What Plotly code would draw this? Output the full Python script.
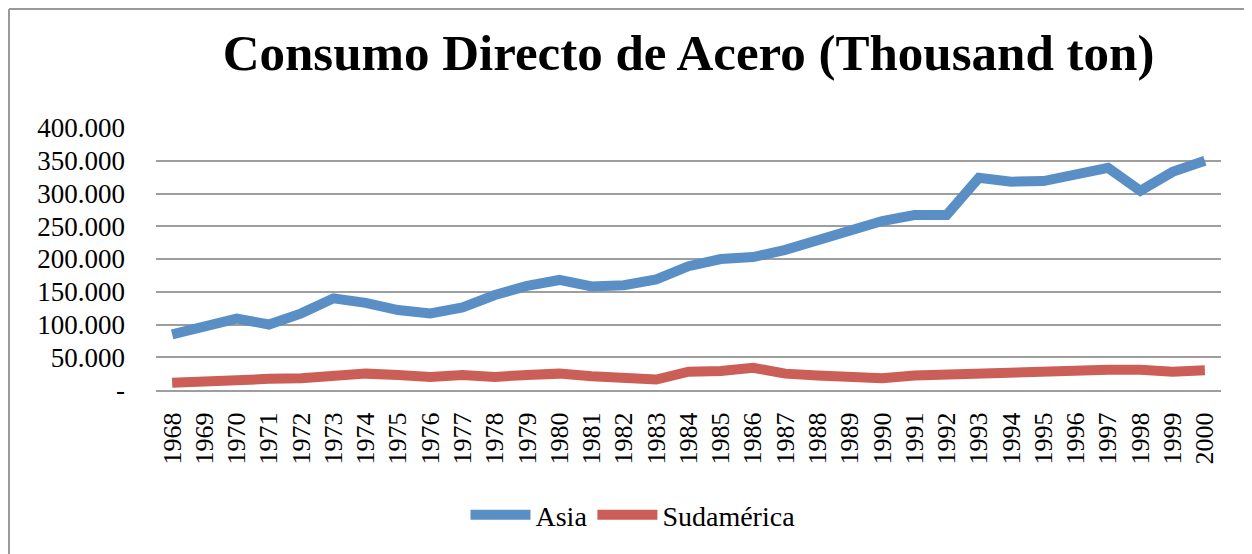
import plotly.graph_objects as go

years = [str(y) for y in range(1968, 2001)]
asia = [85, 97, 109, 100, 117, 140, 133, 122, 117, 126, 145, 159, 168, 158, 160, 169,
        189, 200, 203, 214, 229, 243, 258, 267, 267, 324, 318, 319, 329, 339, 304, 333, 350]
sudamerica = [11, 14, 15, 17, 18, 21, 25, 23, 20, 23, 20, 23, 25, 21, 20, 16,
              28, 29, 34, 25, 22, 21, 18, 22, 24, 25, 25, 29, 29, 31, 31, 28, 30]
ytick_vals = [0, 50, 100, 150, 200, 250, 300, 350, 400]
ytick_text = ["-", "50.000", "100.000", "150.000", "200.000", "250.000", "300.000", "350.000", "400.000"]

FONT = "Liberation Serif"

fig = go.Figure()
fig.add_trace(go.Scatter(x=years, y=asia, mode="lines", name="Asia",
                         line=dict(color="#5A8FC6", width=10)))
fig.add_trace(go.Scatter(x=years, y=sudamerica, mode="lines", name="Sudamérica",
                         line=dict(color="#CB5F58", width=10)))

OFF = 8  # page body margin
W, H = 1252 - OFF, 554 - OFF
L, R, T, B = 156 - OFF, 1221 - OFF, 128 - OFF, 390 - OFF
pw, ph = R - L, B - T

def px(x):
    return (x - OFF - L) / pw

def py(y):
    return (B - (y - OFF)) / ph

fig.update_layout(
    width=W, height=H,
    margin=dict(l=L, r=W - R, t=T, b=H - B, pad=0),
    paper_bgcolor="white", plot_bgcolor="white",
    font=dict(family=FONT, size=27, color="black"),
    title=dict(text="<b>Consumo Directo de Acero (Thousand ton)</b>",
               font=dict(family=FONT, size=51, color="black"),
               x=0.5, xref="paper", xanchor="center",
               y=1 - (52 - OFF) / H, yref="container", yanchor="middle"),
    showlegend=True,
    legend=dict(orientation="h", x=px(633), xanchor="center", y=py(515), yanchor="middle",
                font=dict(family=FONT, size=28), itemwidth=60, bgcolor="rgba(0,0,0,0)"),
    xaxis=dict(type="category", range=[-0.5, len(years) - 0.5], tickangle=-90,
               showgrid=False, showline=True, linecolor="#9E9E9E", linewidth=2,
               ticks="", tickfont=dict(family=FONT, size=26), ticklabelstandoff=10),
    yaxis=dict(range=[0, 400], tickvals=ytick_vals, ticktext=ytick_text,
               showgrid=True, gridcolor="#9E9E9E", gridwidth=2, zeroline=False,
               showline=False, ticks="", tickfont=dict(family=FONT, size=27),
               ticklabelstandoff=30),
    shapes=[
        dict(type="line", xref="paper", yref="paper", x0=px(9), x1=px(9), y0=py(600), y1=py(9),
             line=dict(color="#9A9A9A", width=2)),
        dict(type="line", xref="paper", yref="paper", x0=px(9), x1=px(1300), y0=py(9), y1=py(9),
             line=dict(color="#9A9A9A", width=2)),
    ],
)

fig.write_html("out.html")
